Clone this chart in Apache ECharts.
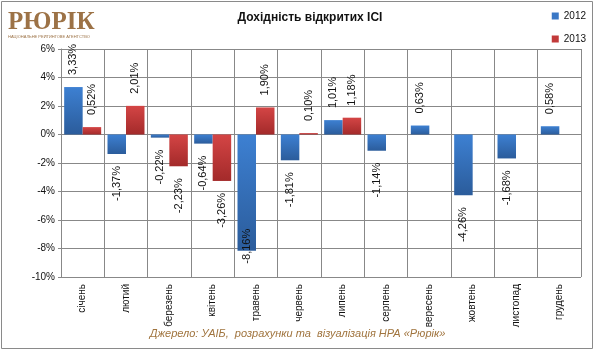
<!DOCTYPE html>
<html><head><meta charset="utf-8">
<script src="https://cdn.jsdelivr.net/npm/echarts@6/dist/echarts.min.js"></script>
<style>html,body{margin:0;padding:0;background:#fff}#c{width:595px;height:359px}</style>
</head><body><div id="c"></div>
<script>
const months = ['січень','лютий','березень','квітень','травень','червень','липень','серпень','вересень','жовтень','листопад','грудень'];
const values2012 = [3.33, -1.37, -0.22, -0.64, -8.16, -1.81, 1.01, -1.14, 0.63, -4.26, -1.68, 0.58];
const values2013 = [0.52, 2.01, -2.23, -3.26, 1.90, 0.10, 1.18, null, null, null, null, null];
const yTicks = {min: -10, max: 6, interval: 2};
const titleText = 'Дохідність відкритих ІСІ';
const sourceText = 'Джерело: УАІБ,  розрахунки та  візуалізація НРА «Рюрік»';

const FONT = '"Liberation Sans", Arial, sans-serif';
function grad(top, bottom){
  return new echarts.graphic.LinearGradient(0,0,0,1,[{offset:0,color:top},{offset:1,color:bottom}]);
}
const blue = grad('#3d80d2','#2b5c9b');
const red = grad('#d44545','#a32a2a');
function fmt(v){ return v.toFixed(2).replace('.', ',') + '%'; }
function items(arr){
  return arr.map(v => {
    if (v === null) return null;
    const lab = {align: v >= 0 ? 'left' : 'right'};
    if (v < -7) lab.distance = -22;
    return {value: v, label: lab};
  });
}
const labelBase = {
  show: true, position: 'outside', rotate: 90, verticalAlign: 'middle', distance: 12,
  fontFamily: FONT, fontSize: 11, color: '#111',
  formatter: p => fmt(p.value)
};
const chart = echarts.init(document.getElementById('c'), null, {renderer: 'canvas'});
chart.setOption({
  animation: false,
  backgroundColor: '#fff',
  title: {text: titleText, left: 305, top: 7, textAlign: 'center',
    textStyle: {fontFamily: FONT, fontSize: 12, fontWeight: 'bold', color: '#111'}},
  legend: {orient: 'vertical', right: 4, top: 6, itemWidth: 7, itemHeight: 7, itemGap: 13,
    icon: 'rect', textStyle: {fontFamily: FONT, fontSize: 10, color: '#111'},
    data: [{name: '2012', itemStyle: {color: '#3a78c6'}}, {name: '2013', itemStyle: {color: '#c23a3a'}}]},
  grid: {left: 61, right: 14, top: 49, bottom: 82, containLabel: false},
  xAxis: {type: 'category', data: months, boundaryGap: true,
    axisLine: {lineStyle: {color: '#888', width: 1}}, axisTick: {show: false},
    splitLine: {show: true, lineStyle: {color: '#888', width: 1}},
    axisLabel: {rotate: 90, interval: 0, margin: 7, fontFamily: FONT, fontSize: 10, color: '#111'}},
  yAxis: {type: 'value', min: yTicks.min, max: yTicks.max, interval: yTicks.interval,
    axisLine: {show: true, lineStyle: {color: '#888'}},
    axisTick: {show: true, length: 3, lineStyle: {color: '#888'}},
    splitLine: {show: true, lineStyle: {color: '#888', width: 1}},
    axisLabel: {formatter: v => v + '%', margin: 6, fontFamily: FONT, fontSize: 10, color: '#111'}},
  series: [
    {name: '2012', type: 'bar', data: items(values2012), barWidth: 18.5, barGap: '0%',
      itemStyle: {color: blue}, label: labelBase},
    {name: '2013', type: 'bar', data: items(values2013), barWidth: 18.5, barGap: '0%',
      itemStyle: {color: red}, label: labelBase}
  ],
  graphic: [
    {type: 'rect', shape: {x: 1.5, y: 1.5, width: 591, height: 347}, style: {fill: null, stroke: '#8a8a8a', lineWidth: 1}, silent: true, z: -1},
    {type: 'text', left: 8, top: 10, style: {text: 'РЮРІК', fontFamily: '"Liberation Serif", serif', fontSize: 25, fill: '#9c7246', fontWeight: 'bold'}},
    {type: 'text', left: 8, top: 35, style: {text: 'НАЦІОНАЛЬНЕ РЕЙТИНГОВЕ АГЕНТСТВО', fontFamily: FONT, fontSize: 4, fill: '#9c7246'}},
    {type: 'text', left: 'center', top: 328, style: {text: sourceText, fontFamily: FONT, fontSize: 11, fontStyle: 'italic', fill: '#a0743e'}}
  ]
});
</script></body></html>
